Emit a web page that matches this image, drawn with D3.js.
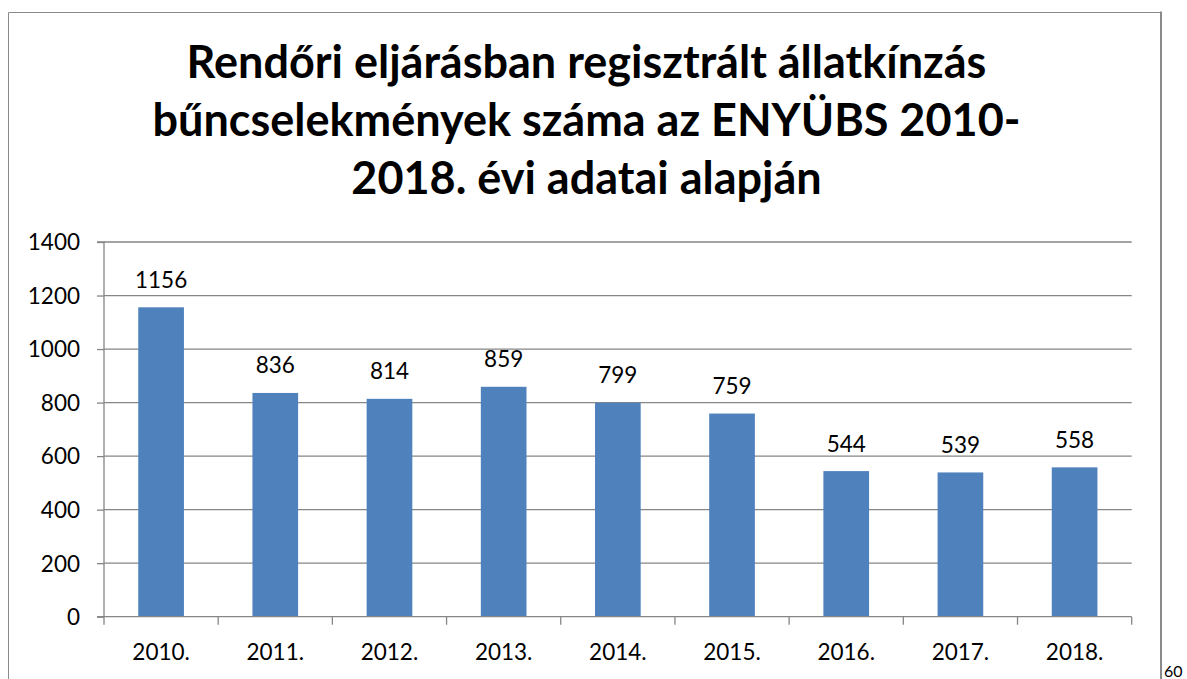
<!DOCTYPE html>
<html><head><meta charset="utf-8">
<script src="https://cdn.jsdelivr.net/npm/d3@7"></script>
<style>body{margin:0;background:#fff;} svg{display:block;}</style>
</head><body>
<svg id="c" width="1187" height="679"></svg>
<script>
const years = ["2010.","2011.","2012.","2013.","2014.","2015.","2016.","2017.","2018."];
const values = [1156,836,814,859,799,759,544,539,558];
const yTicks = [0,200,400,600,800,1000,1200,1400];
const titleLines = ["Rendőri eljárásban regisztrált állatkínzás","bűncselekmények száma az ENYÜBS 2010-","2018. évi adatai alapján"];
const pageNumber = "60";

const svg = d3.select("#c");
const font = "Lato, 'Open Sans', sans-serif";
const gray = "#868686";

// frame
svg.append("path").attr("d","M8.5,690 V12.5 H1161").attr("fill","none").attr("stroke","#8a8a8a").attr("stroke-width",1);
svg.append("line").attr("x1",1161).attr("x2",1161).attr("y1",11.5).attr("y2",690).attr("stroke","#8a8a8a").attr("stroke-width",2);

const L = 104, R = 1131.7, T = 242, B = 616.7;
const x = d3.scaleBand().domain(years).range([L,R]).paddingInner(0.6).paddingOuter(0.3);
const y = d3.scaleLinear().domain([0,1400]).range([B,T]);

// gridlines
svg.append("g").selectAll("line").data(yTicks.filter(d=>d>0)).join("line")
  .attr("x1",L).attr("x2",R).attr("y1",d=>y(d)).attr("y2",d=>y(d))
  .attr("stroke",gray).attr("stroke-width",1.3);

// bars
svg.append("g").selectAll("rect").data(values).join("rect")
  .attr("x",(d,i)=>x(years[i])).attr("width",x.bandwidth())
  .attr("y",d=>y(d)).attr("height",d=>B-y(d)).attr("fill","#4F81BD");

// y axis
const yAxis = d3.axisLeft(y).tickValues(yTicks).tickSize(7).tickPadding(17).tickFormat(d3.format("d"));
const gy = svg.append("g").attr("transform",`translate(${L},0)`).call(yAxis);
gy.select(".domain").attr("stroke",gray).attr("stroke-width",1.3).attr("d",`M-7,${T}H0V${B}`);
gy.selectAll(".tick line").attr("stroke",gray).attr("stroke-width",1.3);
gy.selectAll(".tick text").attr("font-family",font).attr("font-size",22.5).attr("fill","#000").attr("dy","0.35em");

// x axis
const gx = svg.append("g").attr("transform",`translate(0,${B})`);
gx.append("line").attr("x1",L-7).attr("x2",R).attr("y1",0).attr("y2",0).attr("stroke",gray).attr("stroke-width",1.3);
const bounds = years.map(d=>x(d)-x.step()*x.paddingOuter()).concat([R]);
gx.selectAll("line.t").data(bounds).join("line").attr("class","t")
  .attr("x1",d=>d).attr("x2",d=>d).attr("y1",0).attr("y2",8).attr("stroke",gray).attr("stroke-width",1.3);
gx.selectAll("text").data(years).join("text")
  .attr("x",d=>x(d)+x.bandwidth()/2).attr("y",43).attr("text-anchor","middle")
  .attr("font-family",font).attr("font-size",22.5).attr("fill","#000").text(d=>d);

// data labels
svg.append("g").selectAll("text").data(values).join("text")
  .attr("x",(d,i)=>x(years[i])+x.bandwidth()/2).attr("y",d=>y(d)-19.5)
  .attr("text-anchor","middle").attr("font-family",font).attr("font-size",22.5).attr("fill","#000").text(d=>d);

// title
const tg = svg.append("g");
const tl = tg.selectAll("text").data(titleLines).join("text")
  .attr("x",586.5).attr("y",(d,i)=>78+i*58).attr("text-anchor","middle")
  .attr("font-family",font).attr("font-weight","bold").attr("font-size",40).attr("fill","#000").text(d=>d);
const w0 = tl.node().getComputedTextLength();
tl.attr("font-size",40*800/w0);

svg.append("text").attr("x",1164).attr("y",677).attr("font-family",font).attr("font-size",16).attr("fill","#000").text(pageNumber);
</script>
</body></html>
